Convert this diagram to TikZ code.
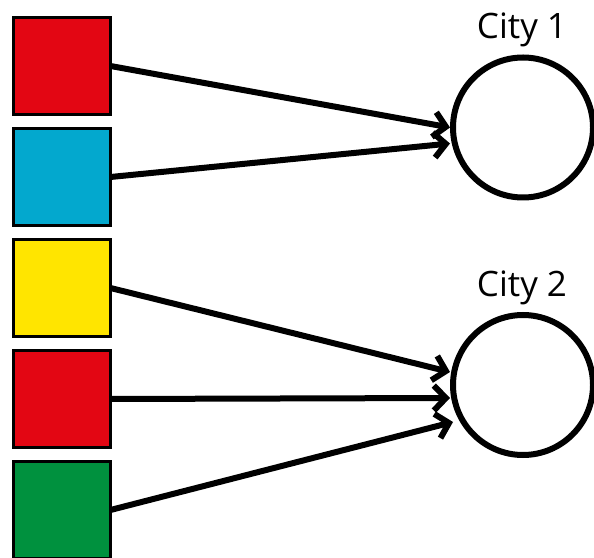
\documentclass[tikz,border=0pt]{standalone}
\usepackage{fontspec}
\setmainfont{Open Sans}
\usetikzlibrary{arrows.meta,positioning,calc}
\definecolor{BoxRed}{RGB}{227,6,19}
\definecolor{BoxCyan}{RGB}{3,168,206}
\definecolor{BoxYellow}{RGB}{255,229,0}
\definecolor{BoxGreen}{RGB}{0,145,62}

\begin{document}
\begin{tikzpicture}[
    x=1pt, y=1pt,
    node distance=14pt,
    box/.style={draw=black, line width=3pt, minimum size=97pt, inner sep=0pt, outer sep=0pt},
    city/.style={circle, draw=black, line width=6pt, minimum size=140pt, inner sep=0pt, outer sep=0pt},
    lbl/.style={font=\fontsize{35}{40}\selectfont, inner sep=0pt},
    arrow/.style={-{Straight Barb[length=12pt,width=25pt]}, line width=6pt}
  ]
    \useasboundingbox (0,0) rectangle (594,557);
    \clip (0,0) rectangle (594,557);
    % boxes on the left
    \node[box, fill=BoxRed] (red1) at (62,491) {};
    \node[box, fill=BoxCyan, below=of red1] (cyan) {};
    \node[box, fill=BoxYellow, below=of cyan] (yellow) {};
    \node[box, fill=BoxRed, below=of yellow] (red2) {};
    \node[box, fill=BoxGreen, below=of red2] (green) {};
    % cities
    \node[city] (city1) at (523,429.5) {};
    \node[city] (city2) at (523,172) {};
    \node[lbl, anchor=base] (name1) at ($(city1.north)+(-1,19)$) {City 1};
    \node[lbl, anchor=base] (name2) at ($(city2.north)+(-1,18)$) {City 2};
    % arrow ends
    \coordinate (a1) at ($(city1.center)+(-73,0)$);
    \coordinate (a2) at ($(city1.center)+(-73,-16)$);
    \coordinate (b1) at ($(city2.center)+(-73,13)$);
    \coordinate (b2) at ($(city2.center)+(-73,-13)$);
    \coordinate (b3) at ($(city2.center)+(-70,-37)$);
    \foreach \a/\b in {red1/a1,cyan/a2,yellow/b1,red2/b2,green/b3} {\draw[arrow] (\a.east) -- (\b);}
  \end{tikzpicture}
\end{document}
